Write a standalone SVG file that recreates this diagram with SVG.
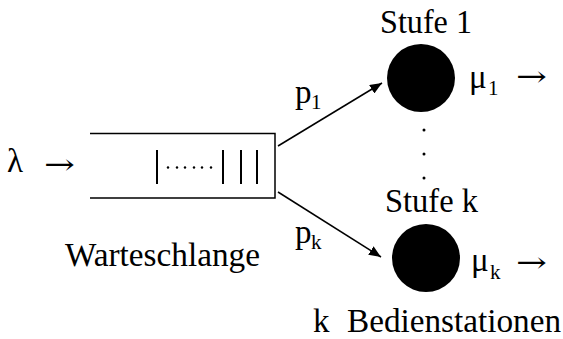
<svg xmlns="http://www.w3.org/2000/svg" width="563" height="339" viewBox="0 0 563 339">
  <style>
    .t { font-family: "Liberation Serif", "DejaVu Serif", serif; font-size: 33px; fill: #000; }
    .sub { font-family: "Liberation Serif", "DejaVu Serif", serif; font-size: 21px; fill: #000; }
    .arr { font-family: "DejaVu Serif", serif; font-size: 28px; fill: #000; }
    .ln { stroke: #000; stroke-width: 1.5; fill: none; }
    .bar { stroke: #000; stroke-width: 2; }
    .srv { fill: #000; }
  </style>
  <defs>
    <marker id="head" viewBox="0 0 12 10" refX="12" refY="5" markerWidth="12" markerHeight="10" markerUnits="userSpaceOnUse" orient="auto">
      <path d="M0,0 L12,5 L0,10 Z" fill="#000"/>
    </marker>
  </defs>
  <rect width="563" height="339" fill="#fff"/>

  <!-- arrival stream -->
  <g id="arrival">
    <text class="t" x="7" y="172">λ</text>
    <text class="arr" x="44" y="174" textLength="31" lengthAdjust="spacingAndGlyphs">→</text>
  </g>

  <!-- waiting queue -->
  <g id="queue">
    <path class="ln" d="M90,133.5 H275 V198 H90"/>
    <line class="bar" x1="157" y1="150" x2="157" y2="184"/>
    <line class="bar" x1="223" y1="150" x2="223" y2="184"/>
    <line class="bar" x1="241" y1="150" x2="241" y2="184"/>
    <line class="bar" x1="257" y1="150" x2="257" y2="184"/>
    <g fill="#000">
      <circle cx="168" cy="167.5" r="1.2"/>
      <circle cx="177" cy="167.5" r="1.2"/>
      <circle cx="185" cy="167.5" r="1.2"/>
      <circle cx="194" cy="167.5" r="1.2"/>
      <circle cx="202" cy="167.5" r="1.2"/>
      <circle cx="211" cy="167.5" r="1.2"/>
    </g>
    <text class="t" x="65" y="266" textLength="195" lengthAdjust="spacingAndGlyphs">Warteschlange</text>
  </g>

  <!-- service stage 1 -->
  <g id="stage1">
    <text class="t" x="380" y="33" textLength="92" lengthAdjust="spacingAndGlyphs">Stufe 1</text>
    <circle class="srv" cx="421" cy="78" r="34"/>
    <text class="t" x="469" y="88">μ</text>
    <text class="sub" x="488" y="95">1</text>
    <text class="arr" x="516" y="86" textLength="31" lengthAdjust="spacingAndGlyphs">→</text>
  </g>

  <!-- ellipsis between stages -->
  <g id="ellipsis" fill="#000">
    <circle cx="424" cy="130" r="1.5"/>
    <circle cx="424" cy="154" r="1.5"/>
    <circle cx="424" cy="178" r="1.5"/>
  </g>

  <!-- service stage k -->
  <g id="stagek">
    <text class="t" x="385" y="212" textLength="93" lengthAdjust="spacingAndGlyphs">Stufe k</text>
    <circle class="srv" cx="426" cy="258" r="34"/>
    <text class="t" x="471" y="271">μ</text>
    <text class="sub" x="490" y="279">k</text>
    <text class="arr" x="516" y="272" textLength="31" lengthAdjust="spacingAndGlyphs">→</text>
  </g>

  <g id="caption">
    <text class="t" x="313" y="332">k</text>
    <text class="t" x="347" y="332" textLength="214" lengthAdjust="spacingAndGlyphs">Bedienstationen</text>
  </g>

  <!-- routing connectors -->
  <g id="connectors">
    <line class="ln" x1="278" y1="146" x2="382" y2="83" marker-end="url(#head)"/>
    <line class="ln" x1="278" y1="192" x2="381" y2="257" marker-end="url(#head)"/>
    <text class="t" x="295" y="103">p</text>
    <text class="sub" x="311" y="109">1</text>
    <text class="t" x="295" y="243">p</text>
    <text class="sub" x="311" y="249">k</text>
  </g>
</svg>
